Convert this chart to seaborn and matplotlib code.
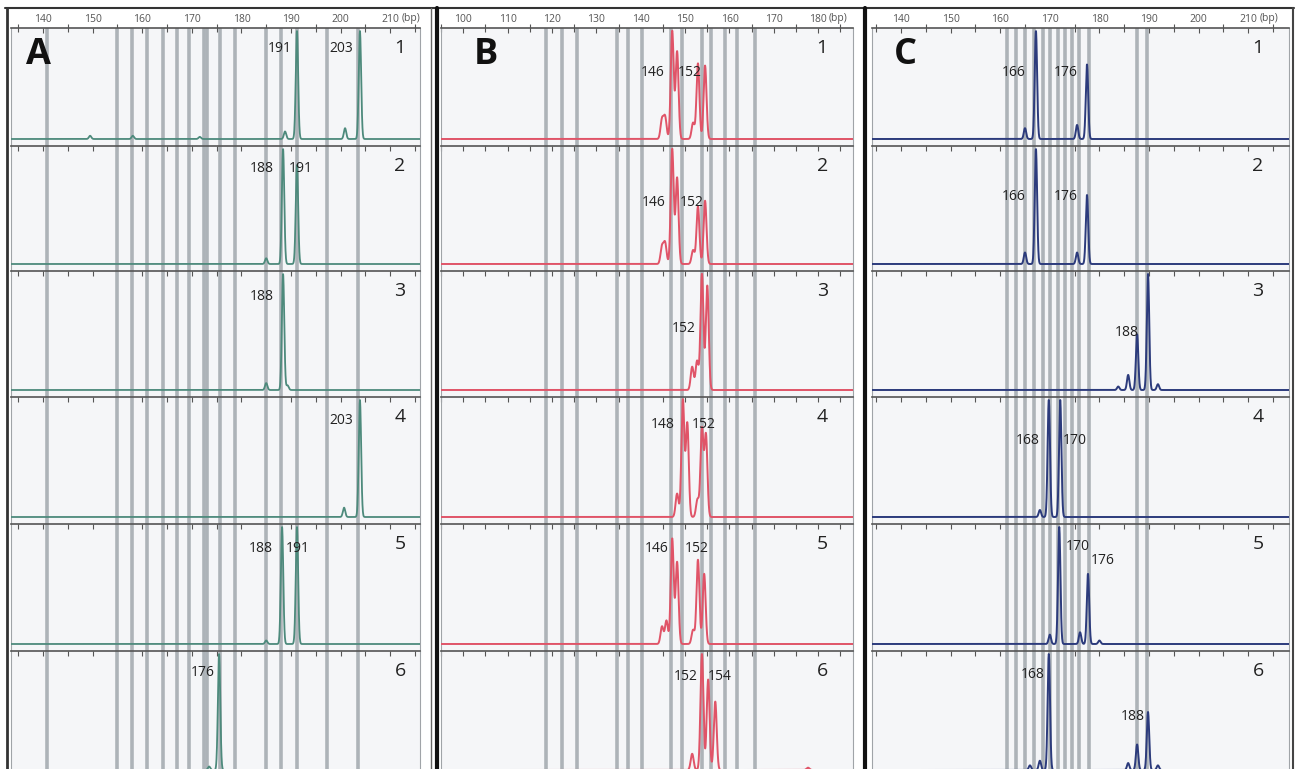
import numpy as np
import pandas as pd
import matplotlib
matplotlib.use("Agg")
import matplotlib.pyplot as plt
import seaborn as sns
from matplotlib.lines import Line2D
from matplotlib.transforms import blended_transform_factory

# ---------------- data ----------------
panel_names = ["A", "B", "C"]
row_numbers = ["1", "2", "3", "4", "5", "6"]

A_ticks = [140, 150, 160, 170, 180, 190, 200, 210]
B_ticks = [100, 110, 120, 130, 140, 150, 160, 170, 180]
C_ticks = [140, 150, 160, 170, 180, 190, 200, 210]

A_bins = [140.8, 154.9, 157.9, 161.0, 164.2, 167.0, 169.4, 172.5, 173.1,
          175.7, 178.7, 185.0, 188.0, 191.2, 197.3, 203.5]
B_bins = [118.7, 122.3, 125.7, 134.7, 137.2, 140.3, 146.8, 149.3, 153.8,
          155.9, 159.0, 161.7, 165.8]
C_bins = [161.4, 163.2, 165.0, 166.8, 168.6, 170.0, 171.7, 173.1, 174.5,
          175.9, 177.9, 187.6, 189.6]

# peak positions (bp) and relative heights per row
A_peak_bp = [[149.5, 158.1, 171.6, 188.8, 191.2, 200.9, 203.9],
             [185.0, 188.4, 191.2],
             [185.0, 188.4, 189.3],
             [200.7, 203.9],
             [185.0, 188.2, 191.2],
             [173.5, 175.5]]
A_peak_h = [[0.03, 0.03, 0.02, 0.07, 1.0, 0.10, 1.0],
            [0.05, 1.0, 0.86],
            [0.06, 1.0, 0.04],
            [0.08, 1.0],
            [0.03, 1.0, 1.0],
            [0.03, 1.0]]

B_peak_bp = [[144.8, 145.5, 147.1, 148.2, 151.8, 152.9, 154.5],
             [144.8, 145.5, 147.1, 148.2, 151.8, 152.9, 154.5],
             [151.6, 152.7, 153.8, 155.0],
             [148.2, 149.5, 150.5, 152.8, 153.8, 154.7],
             [144.8, 145.8, 147.1, 148.2, 151.8, 152.9, 154.3],
             [151.6, 153.8, 155.2, 156.8, 177.7]]
B_peak_h = [[0.18, 0.20, 1.0, 0.81, 0.15, 0.70, 0.68],
            [0.15, 0.18, 1.0, 0.75, 0.12, 0.50, 0.55],
            [0.20, 0.25, 1.0, 0.90],
            [0.20, 1.0, 0.80, 0.15, 0.75, 0.70],
            [0.15, 0.20, 0.90, 0.70, 0.12, 0.72, 0.60],
            [0.14, 1.0, 0.78, 0.59, 0.02]]

C_peak_bp = [[165.0, 167.2, 175.5, 177.5],
             [165.0, 167.2, 175.5, 177.5],
             [183.8, 185.8, 187.6, 189.8, 191.8],
             [168.0, 169.8, 172.1],
             [170.0, 171.9, 176.1, 177.7, 180.0],
             [166.0, 168.0, 169.8, 185.8, 187.6, 189.8, 191.8]]
C_peak_h = [[0.10, 1.0, 0.13, 0.69],
            [0.10, 1.0, 0.10, 0.60],
            [0.03, 0.13, 0.48, 1.0, 0.05],
            [0.06, 1.0, 1.0],
            [0.08, 1.0, 0.10, 0.60, 0.03],
            [0.04, 0.08, 1.0, 0.06, 0.22, 0.50, 0.04]]

# allele calls per row
A_calls = [["191", "203"], ["188", "191"], ["188"], ["203"], ["188", "191"], ["176"]]
B_calls = [["146", "152"], ["146", "152"], ["152"], ["148", "152"], ["146", "152"], ["152", "154"]]
C_calls = [["166", "176"], ["166", "176"], ["188"], ["168", "170"], ["170", "176"], ["168", "188"]]

# ---------------- layout ----------------
W, H = 1296, 769
def fx(x): return x / W
def fy(y): return 1 - y / H

# label anchor (bp, px below row top)
A_call_pos = [[(187.8, 20), (200.1, 20)], [(184.2, 23), (192.0, 23)], [(184.2, 26)],
              [(200.1, 23)], [(184.0, 25), (191.4, 25)], [(172.3, 22)]]
B_call_pos = [[(142.6, 45), (151.1, 45)], [(143.0, 56), (151.6, 56)], [(149.8, 57)],
              [(145.0, 27), (154.1, 27)], [(143.5, 25), (152.7, 25)], [(150.2, 25), (157.9, 25)]]
C_call_pos = [[(162.8, 45), (173.3, 45)], [(162.8, 51), (173.3, 51)], [(185.6, 62)],
              [(165.6, 44), (175.1, 44)], [(175.7, 23), (180.7, 36)], [(166.6, 23), (186.8, 66)]]

panels = {
    "A": dict(left=11, right=420, x0=43, b0=140, ppb=4.96, ticks=A_ticks, bins=A_bins,
              pbp=A_peak_bp, ph=A_peak_h, calls=A_calls, cpos=A_call_pos,
              color="#4d8a7c", sigma=0.24, lw=1.3, letter_x=38, num_bp=212.0),
    "B": dict(left=441, right=853, x0=463, b0=100, ppb=4.44, ticks=B_ticks, bins=B_bins,
              pbp=B_peak_bp, ph=B_peak_h, calls=B_calls, cpos=B_call_pos,
              color="#e05468", sigma=0.33, lw=1.4, letter_x=486, num_bp=180.9),
    "C": dict(left=872, right=1289, x0=901, b0=140, ppb=4.96, ticks=C_ticks, bins=C_bins,
              pbp=C_peak_bp, ph=C_peak_h, calls=C_calls, cpos=C_call_pos,
              color="#2c3b7c", sigma=0.24, lw=1.4, letter_x=905, num_bp=212.0),
}

row_tops = [28, 146, 271, 397, 524, 651]
row_bots = row_tops[1:] + [777]

sns.set_theme(style="white")
plt.rcParams["font.family"] = ["Open Sans", "DejaVu Sans"]

fig = plt.figure(figsize=(W / 100, H / 100), dpi=100)
fig.patch.set_facecolor("white")

for name in panel_names:
    P = panels[name]
    xlim = (P["b0"] + (P["left"] - P["x0"]) / P["ppb"],
            P["b0"] + (P["right"] - P["x0"]) / P["ppb"])
    for r in range(6):
        top, bot = row_tops[r], row_bots[r]
        hpx = bot - top
        ax = fig.add_axes([fx(P["left"]), fy(bot), fx(P["right"]) - fx(P["left"]), hpx / H])
        ax.set_facecolor("#f5f6f8")
        unit = hpx - 10
        for b in P["bins"]:
            ax.axvline(b, color="#adb3b8", lw=2.6, zorder=1)
        x = np.arange(xlim[0], xlim[1], 0.03)
        y = np.zeros_like(x)
        for p, h in zip(P["pbp"][r], P["ph"][r]):
            y += h * np.exp(-0.5 * ((x - p) / P["sigma"]) ** 2)
        df = pd.DataFrame({"bp": x, "signal": y})
        sns.lineplot(data=df, x="bp", y="signal", ax=ax, color=P["color"],
                     lw=P["lw"], legend=False, zorder=3)
        ax.set_xlim(*xlim)
        ax.set_ylim(-7 / unit, 1 + 3 / unit)
        ax.set_xlabel("")
        ax.set_ylabel("")
        ax.set_yticks([])
        ax.set_xticks(P["ticks"])
        ax.set_xticks(np.arange(P["ticks"][0] - 5, P["ticks"][-1] + 6, 5), minor=True)
        ax.xaxis.set_ticks_position("top")
        ax.tick_params(axis="x", which="both", direction="in", top=True, bottom=False,
                       length=3.5, width=0.8, color="#555555",
                       labeltop=(r == 0), labelbottom=False,
                       labelsize=7.5, labelcolor="#555555", pad=2.5)
        if r == 0:
            ax.set_xticklabels([str(t) for t in P["ticks"]])
            ax.tick_params(axis="x", which="minor", direction="inout", length=6)
            ax.text(P["ticks"][-1] + 2.4, 1 + 9.5 / hpx, "(bp)", fontsize=7.5,
                    color="#555555", ha="left", va="center",
                    transform=blended_transform_factory(ax.transData, ax.transAxes),
                    clip_on=False)
        for s in ["left", "right"]:
            ax.spines[s].set_color("#a0a4a8")
            ax.spines[s].set_linewidth(0.8)
        ax.spines["bottom"].set_visible(False)
        ax.spines["top"].set_color("#555555")
        ax.spines["top"].set_linewidth(1.2)
        tr = blended_transform_factory(ax.transData, ax.transAxes)
        for call, (cx, off) in zip(P["calls"][r], P["cpos"][r]):
            ax.text(cx, 1 - off / hpx, call, fontsize=10, color="#222222",
                    ha="center", va="center", transform=tr, zorder=5)
        ax.text(P["num_bp"], 1 - 20 / hpx, row_numbers[r], fontsize=14,
                color="#222222", ha="center", va="center", transform=tr, zorder=5)
    fig.text(fx(P["letter_x"]), fy(55), name, fontsize=26, fontweight="bold",
             color="#111111", ha="center", va="center")

# panel frames
def fline(x1, y1, x2, y2, color, lw):
    fig.add_artist(Line2D([fx(x1), fx(x2)], [fy(y1), fy(y2)], transform=fig.transFigure,
                          color=color, lw=lw))

fline(5, 8, 1294, 8, "#333333", 1.5)
fline(7, 8, 7, 769, "#333333", 2.0)
fline(431, 8, 431, 769, "#666666", 1.0)
fline(436.5, 8, 436.5, 769, "#111111", 3.0)
fline(864.5, 8, 864.5, 769, "#111111", 3.0)
fline(1293, 8, 1293, 769, "#444444", 1.5)

fig.savefig("out.png", dpi=100, facecolor="white")
